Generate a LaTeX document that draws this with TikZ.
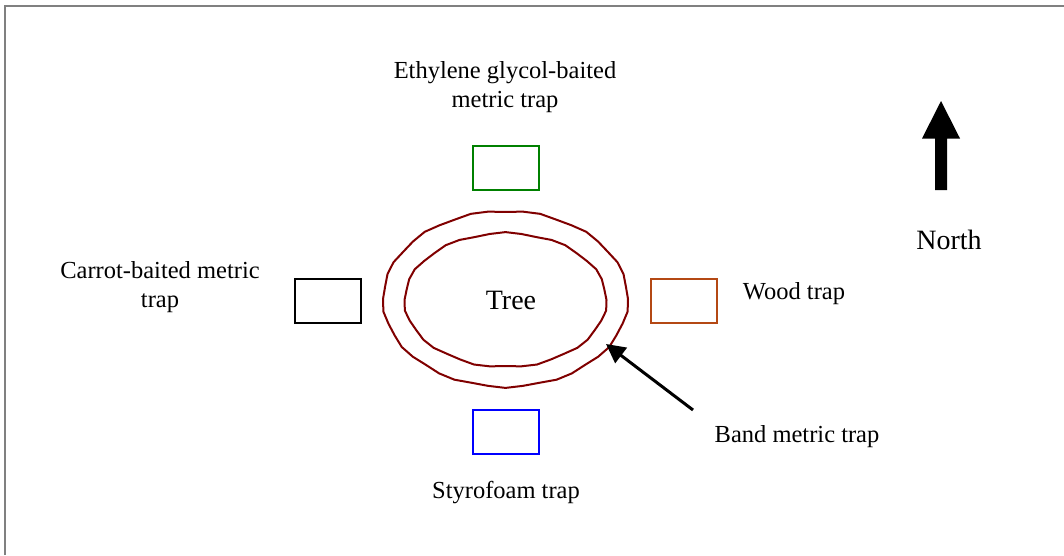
\documentclass[tikz,border=0pt]{standalone}
\usepackage{fontspec}
\setmainfont{Liberation Serif}
\usetikzlibrary{arrows.meta}
\definecolor{ringred}{RGB}{128,0,0}
\definecolor{woodbrown}{RGB}{180,72,20}
\definecolor{glygreen}{RGB}{0,128,0}
\definecolor{framegray}{RGB}{128,128,128}
\begin{document}
\begin{tikzpicture}[x=1pt,y=-1pt,
  trapbox/.style={draw,line width=2pt,minimum width=66pt,minimum height=44pt,inner sep=0pt},
  lbl/.style={font=\fontsize{24.5}{29}\selectfont,align=center,inner sep=0pt},
  ring/.style={draw=ringred,line width=2pt,line join=round}]
\useasboundingbox (0,0) rectangle (1064,555);
% frame (only left and top edges visible)
\draw[framegray,line width=2.5pt] (5,555) -- (5,6) -- (1064,6);
% trap boxes
\node[trapbox,draw=glygreen] (egbox) at (506,167.5) {};
\node[trapbox,draw=black] (carbox) at (328,301) {};
\node[trapbox,draw=woodbrown] (woodbox) at (683.5,301) {};
\node[trapbox,draw=blue] (stybox) at (506,432) {};
% tree rings
\draw[ring] plot[domain=0:360,samples=45] ({505.5+(122.5+0.9*sin(13*\x))*cos(\x)},{299+(88+0.9*sin(13*\x))*sin(\x)}) -- cycle;
\draw[ring] plot[domain=0:360,samples=41] ({505.5+(101+0.9*sin(11*\x))*cos(\x)},{300+(67+0.9*sin(11*\x))*sin(\x)}) -- cycle;
\node[lbl,font=\fontsize{28}{32}\selectfont] (tree) at (511,300) {Tree};
% labels
\node[lbl] (eglbl) at (505,87) {Ethylene glycol-baited\\metric trap};
\node[lbl] (carlbl) at (160,287) {Carrot-baited metric\\trap};
\node[lbl] (woodlbl) at (794,294) {Wood trap};
\node[lbl] (stylbl) at (506,493) {Styrofoam trap};
\node[lbl] (bandlbl) at (797,437) {Band metric trap};
\node[lbl,font=\fontsize{28}{32}\selectfont] (north) at (949,240) {North};
% band arrow
\coordinate (bandtail) at (693,410);
\coordinate (bandtip) at (606,344);
\draw[line width=3pt,-{Triangle[length=19pt,width=19pt]}] (bandtail) -- (bandtip);
% north arrow
\coordinate (nbase) at (941,190);
\coordinate (ntip) at (941,101);
\fill[black] (935,190) -- (935,138.5) -- (922,138.5) -- (ntip) -- (960,138.5) -- (947,138.5) -- (947,190) -- cycle;
\end{tikzpicture}
\end{document}
